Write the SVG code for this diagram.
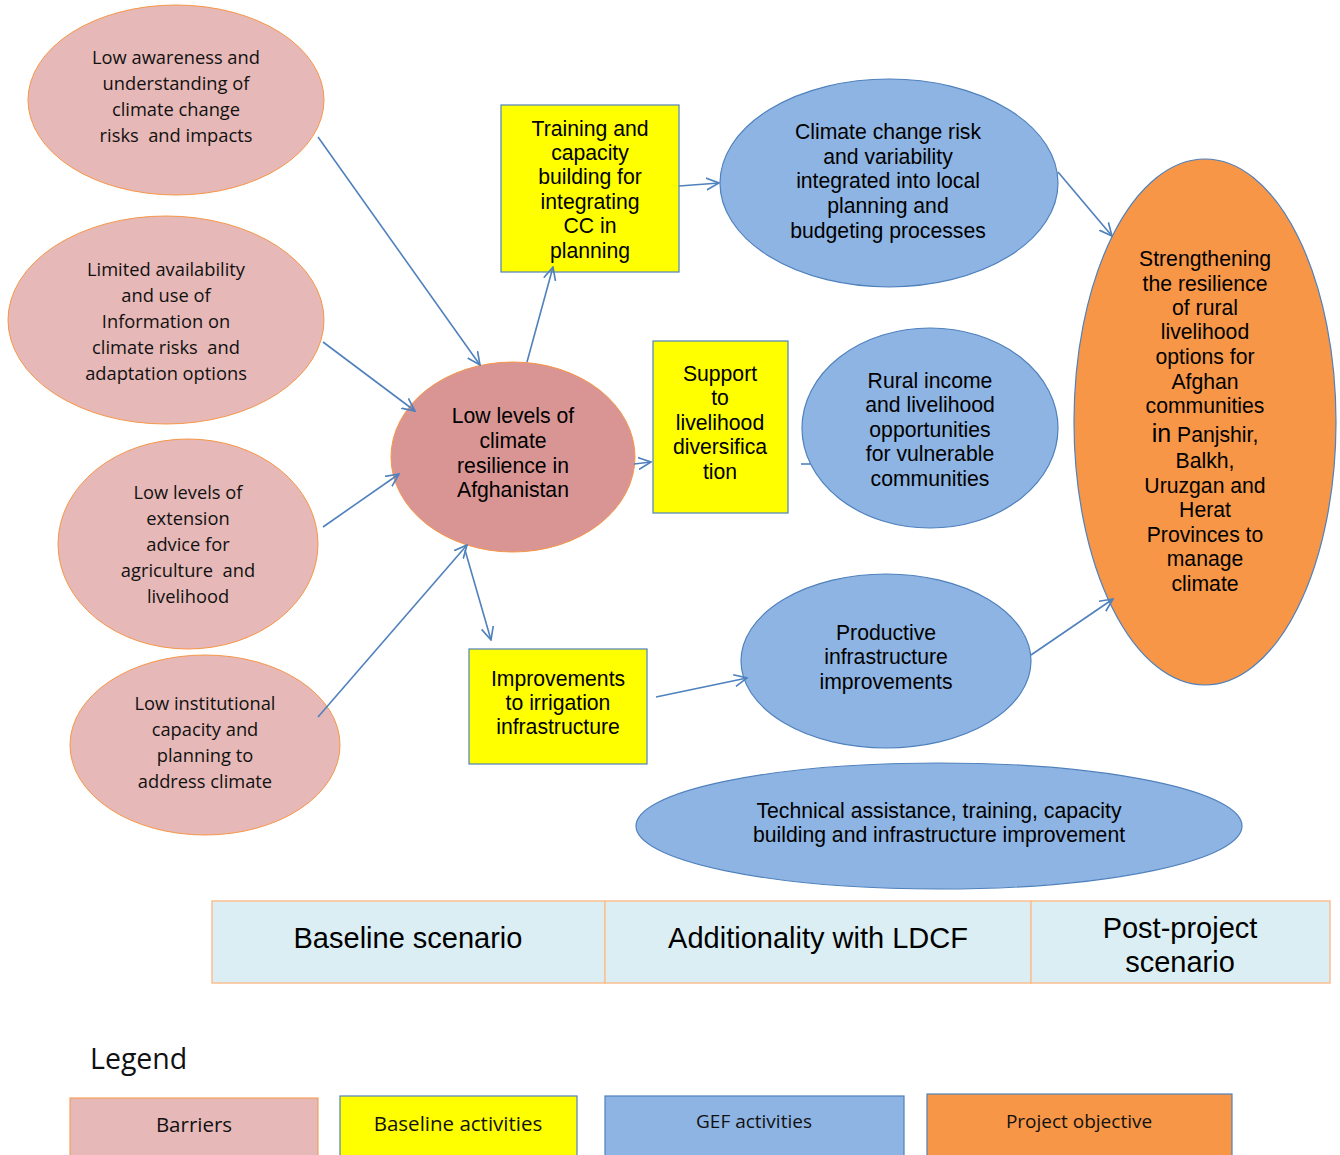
<svg xmlns="http://www.w3.org/2000/svg" width="1340" height="1155" viewBox="0 0 1340 1155">
<style>
.bar{fill:#e6b8b7;stroke:#f79646;stroke-width:1}
.cen{fill:#d99594;stroke:#f79646;stroke-width:1}
.yel{fill:#ffff00;stroke:#4f81bd;stroke-width:1.2}
.gef{fill:#8eb4e3;stroke:#4f81bd;stroke-width:1.2}
.obj{fill:#f79646;stroke:#4f81bd;stroke-width:1.2}
.tab{fill:#dbeef3;stroke:#fac090;stroke-width:1.5}
.c{font-family:"Open Sans","Lato",sans-serif;font-size:18.3px;fill:#111;text-anchor:middle}
.a{font-family:"Liberation Sans",Arial,sans-serif;font-size:21.2px;fill:#000;text-anchor:middle}
.t{font-family:"Liberation Sans",Arial,sans-serif;font-size:29px;fill:#000;text-anchor:middle}
.l{font-family:"Open Sans","Lato",sans-serif;font-size:20.5px;fill:#111;text-anchor:middle}
.ls{font-family:"Open Sans","Lato",sans-serif;font-size:19px;fill:#111;text-anchor:middle}
.conn{stroke:#4f81bd;stroke-width:1.6;fill:none}
</style>
<defs>
<marker id="arr" viewBox="0 0 12 12" refX="11" refY="6" markerWidth="14" markerHeight="14" markerUnits="userSpaceOnUse" orient="auto">
<path d="M0,0.8 L11,6 L0,11.2" fill="none" stroke="#4f81bd" stroke-width="1.4"/>
</marker>
</defs>
<rect width="1340" height="1155" fill="#fff"/>

<g id="barrier1">
<ellipse class="bar" cx="176" cy="100" rx="148" ry="95"/>
<text class="c" xml:space="preserve"><tspan x="176" y="64">Low awareness and</tspan><tspan x="176" y="90">understanding of</tspan><tspan x="176" y="116">climate change</tspan><tspan x="176" y="142">risks  and impacts</tspan></text>
</g>
<g id="barrier2">
<ellipse class="bar" cx="166" cy="320" rx="158" ry="104"/>
<text class="c" xml:space="preserve"><tspan x="166" y="276">Limited availability</tspan><tspan x="166" y="302">and use of</tspan><tspan x="166" y="328">Information on</tspan><tspan x="166" y="354">climate risks  and</tspan><tspan x="166" y="380">adaptation options</tspan></text>
</g>
<g id="barrier3">
<ellipse class="bar" cx="188" cy="544" rx="130" ry="105"/>
<text class="c" xml:space="preserve"><tspan x="188" y="499">Low levels of</tspan><tspan x="188" y="525">extension</tspan><tspan x="188" y="551">advice for</tspan><tspan x="188" y="577">agriculture  and</tspan><tspan x="188" y="603">livelihood</tspan></text>
</g>
<g id="barrier4">
<ellipse class="bar" cx="205" cy="745" rx="135" ry="90"/>
<text class="c"><tspan x="205" y="710">Low institutional</tspan><tspan x="205" y="736">capacity and</tspan><tspan x="205" y="762">planning to</tspan><tspan x="205" y="788">address climate</tspan></text>
</g>

<g id="central">
<ellipse class="cen" cx="513" cy="457" rx="122" ry="95"/>
<text class="a"><tspan x="513" y="423">Low levels of</tspan><tspan x="513" y="448">climate</tspan><tspan x="513" y="473">resilience in</tspan><tspan x="513" y="497">Afghanistan</tspan></text>
</g>

<g id="training">
<rect class="yel" x="501" y="105" width="178" height="167"/>
<text class="a"><tspan x="590" y="136">Training and</tspan><tspan x="590" y="160">capacity</tspan><tspan x="590" y="184">building for</tspan><tspan x="590" y="209">integrating</tspan><tspan x="590" y="233">CC in</tspan><tspan x="590" y="258">planning</tspan></text>
</g>
<g id="support">
<rect class="yel" x="653" y="341" width="135" height="172"/>
<text class="a"><tspan x="720" y="381">Support</tspan><tspan x="720" y="405">to</tspan><tspan x="720" y="430">livelihood</tspan><tspan x="720" y="454">diversifica</tspan><tspan x="720" y="479">tion</tspan></text>
</g>
<g id="irrigation">
<rect class="yel" x="469" y="649" width="178" height="115"/>
<text class="a"><tspan x="558" y="686">Improvements</tspan><tspan x="558" y="710">to irrigation</tspan><tspan x="558" y="734">infrastructure</tspan></text>
</g>

<g id="ccrisk">
<ellipse class="gef" cx="889" cy="183" rx="169" ry="104"/>
<text class="a"><tspan x="888" y="139">Climate change risk</tspan><tspan x="888" y="164">and variability</tspan><tspan x="888" y="188">integrated into local</tspan><tspan x="888" y="213">planning and</tspan><tspan x="888" y="238">budgeting processes</tspan></text>
</g>
<g id="rural">
<ellipse class="gef" cx="930" cy="428" rx="128" ry="100"/>
<text class="a"><tspan x="930" y="388">Rural income</tspan><tspan x="930" y="412">and livelihood</tspan><tspan x="930" y="437">opportunities</tspan><tspan x="930" y="461">for vulnerable</tspan><tspan x="930" y="486">communities</tspan></text>
</g>
<g id="productive">
<ellipse class="gef" cx="886" cy="661" rx="145" ry="87"/>
<text class="a"><tspan x="886" y="640">Productive</tspan><tspan x="886" y="664">infrastructure</tspan><tspan x="886" y="689">improvements</tspan></text>
</g>
<g id="technical">
<ellipse class="gef" cx="939" cy="826" rx="303" ry="63"/>
<text class="a"><tspan x="939" y="818">Technical assistance, training, capacity</tspan><tspan x="939" y="842">building and infrastructure improvement</tspan></text>
</g>

<g id="objective">
<ellipse class="obj" cx="1205" cy="422" rx="131" ry="263"/>
<text class="a"><tspan x="1205" y="266">Strengthening</tspan><tspan x="1205" y="291">the resilience</tspan><tspan x="1205" y="315">of rural</tspan><tspan x="1205" y="339">livelihood</tspan><tspan x="1205" y="364">options for</tspan><tspan x="1205" y="389">Afghan</tspan><tspan x="1205" y="413">communities</tspan><tspan x="1205" y="442"><tspan font-size="25">in</tspan> Panjshir,</tspan><tspan x="1205" y="468">Balkh,</tspan><tspan x="1205" y="493">Uruzgan and</tspan><tspan x="1205" y="517">Herat</tspan><tspan x="1205" y="542">Provinces to</tspan><tspan x="1205" y="566">manage</tspan><tspan x="1205" y="591">climate</tspan></text>
</g>

<g id="connectors">
<line class="conn" x1="318" y1="137" x2="480" y2="365" marker-end="url(#arr)"/>
<line class="conn" x1="323" y1="342" x2="415" y2="411" marker-end="url(#arr)"/>
<line class="conn" x1="323" y1="527" x2="399" y2="474" marker-end="url(#arr)"/>
<line class="conn" x1="318" y1="717" x2="467" y2="545" marker-end="url(#arr)"/>
<line class="conn" x1="527" y1="362" x2="553" y2="267" marker-end="url(#arr)"/>
<line class="conn" x1="465" y1="550" x2="491" y2="640" marker-end="url(#arr)"/>
<line class="conn" x1="679" y1="186" x2="719" y2="183" marker-end="url(#arr)"/>
<line class="conn" x1="634" y1="464" x2="651" y2="462" marker-end="url(#arr)"/>
<line class="conn" x1="801" y1="464" x2="811" y2="464"/>
<line class="conn" x1="1058" y1="172" x2="1112" y2="236" marker-end="url(#arr)"/>
<line class="conn" x1="656" y1="697" x2="747" y2="678" marker-end="url(#arr)"/>
<line class="conn" x1="1031" y1="655" x2="1113" y2="599" marker-end="url(#arr)"/>
</g>

<g id="scenarios">
<rect class="tab" x="212" y="901" width="393" height="82"/>
<rect class="tab" x="605" y="901" width="426" height="82"/>
<rect class="tab" x="1031" y="901" width="299" height="82"/>
<text class="t" x="408" y="948">Baseline scenario</text>
<text class="t" x="818" y="948">Additionality with LDCF</text>
<text class="t"><tspan x="1180" y="938">Post-project</tspan><tspan x="1180" y="972">scenario</tspan></text>
</g>

<g id="legend">
<text x="90" y="1069" font-family="'Open Sans','Lato',sans-serif" font-size="28.5" fill="#111">Legend</text>
<rect class="bar" x="70" y="1098" width="248" height="60"/>
<text class="l" x="194" y="1132">Barriers</text>
<rect class="yel" x="340" y="1096" width="237" height="62"/>
<text class="l" x="458" y="1131">Baseline activities</text>
<rect class="gef" x="605" y="1096" width="299" height="62"/>
<text class="ls" x="754" y="1128">GEF activities</text>
<rect class="obj" x="927" y="1094" width="305" height="64"/>
<text class="ls" x="1079" y="1128">Project objective</text>
</g>
</svg>
